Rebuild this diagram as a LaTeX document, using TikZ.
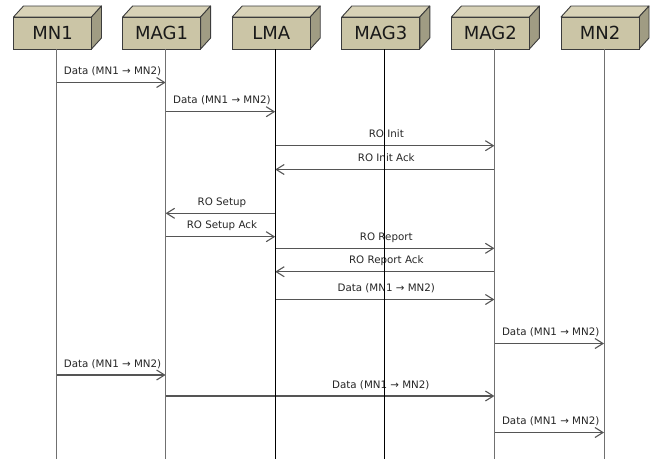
\documentclass[tikz,border=0pt]{standalone}
\usepackage{fontspec}
\setmainfont{DejaVu Sans}
\usetikzlibrary{arrows.meta}
\definecolor{boxfront}{HTML}{CBC5A6}
\definecolor{boxtop}{HTML}{D8D2B7}
\definecolor{boxside}{HTML}{A09C83}
\definecolor{boxline}{HTML}{3C3C3C}
\definecolor{msgcol}{HTML}{555555}
\definecolor{lifegray}{HTML}{707070}
\begin{document}
\begin{tikzpicture}[x=1pt,y=-1pt,
  box/.style={draw=boxline,fill=boxfront,line width=0.9pt,minimum width=78pt,minimum height=32pt,inner sep=0pt,outer sep=0pt,font=\fontsize{18}{20}\selectfont,text=black!90},
  topface/.style={draw=boxline,fill=boxtop,line width=0.9pt,line join=round},
  sideface/.style={draw=boxline,fill=boxside,line width=0.9pt,line join=round},
  life/.style={line width=0.9pt},
  msg/.style={draw=msgcol,line width=1.1pt,-{Straight Barb[length=8pt,width=10pt,line width=1.1pt]}},
  lbl/.style={midway,anchor=base,yshift=8pt,xshift=1.5pt,inner sep=0pt,font=\fontsize{10.3}{12}\selectfont,text=black!85}]
\useasboundingbox (0,0) rectangle (657,459);
\foreach \n/\x in {MN1/56.5,MAG1/165.6,LMA/275.2,MAG3/384.8,MAG2/494.4,MN2/604}{
  \filldraw[topface] (\x-43,17) -- ++(10,-11) -- ++(78,0) -- ++(-10,11) -- cycle;
  \filldraw[sideface] (\x+35,17) -- ++(10,-11) -- ++(0,32) -- ++(-10,11) -- cycle;
  \node[box] (\n) at (\x-4,33) {\n};
  \coordinate (\n-t) at (\x,49);
  \coordinate (\n-b) at (\x,459);
}
% messages
\draw[msg] (MN1-t |- 0,82.5) -- (MAG1-t |- 0,82.5) node[lbl]{Data (MN1 → MN2)};
\draw[msg] (MAG1-t |- 0,111.7) -- (LMA-t |- 0,111.7) node[lbl]{Data (MN1 → MN2)};
\draw[msg] (LMA-t |- 0,145.7) -- (MAG2-t |- 0,145.7) node[lbl]{RO Init};
\draw[msg] (MAG2-t |- 0,169.5) -- (LMA-t |- 0,169.5) node[lbl]{RO Init Ack};
\draw[msg] (LMA-t |- 0,213.3) -- (MAG1-t |- 0,213.3) node[lbl]{RO Setup};
\draw[msg] (MAG1-t |- 0,236.7) -- (LMA-t |- 0,236.7) node[lbl]{RO Setup Ack};
\draw[msg] (LMA-t |- 0,248.3) -- (MAG2-t |- 0,248.3) node[lbl]{RO Report};
\draw[msg] (MAG2-t |- 0,271.7) -- (LMA-t |- 0,271.7) node[lbl]{RO Report Ack};
\draw[msg] (LMA-t |- 0,299.5) -- (MAG2-t |- 0,299.5) node[lbl]{Data (MN1 → MN2)};
\draw[msg] (MAG2-t |- 0,343.5) -- (MN2-t |- 0,343.5) node[lbl]{Data (MN1 → MN2)};
\draw[msg] (MN1-t |- 0,375) -- (MAG1-t |- 0,375) node[lbl]{Data (MN1 → MN2)};
\draw[msg] (MAG1-t |- 0,396) -- (MAG2-t |- 0,396) node[lbl,pos=0.65]{Data (MN1 → MN2)};
\draw[msg] (MAG2-t |- 0,432.5) -- (MN2-t |- 0,432.5) node[lbl]{Data (MN1 → MN2)};
% lifelines
\foreach \n/\c in {MN1/lifegray,MAG1/lifegray,MAG2/lifegray,MN2/lifegray,LMA/black,MAG3/black}{
  \draw[life,draw=\c] (\n-t) -- (\n-b);
}
\end{tikzpicture}
\end{document}
